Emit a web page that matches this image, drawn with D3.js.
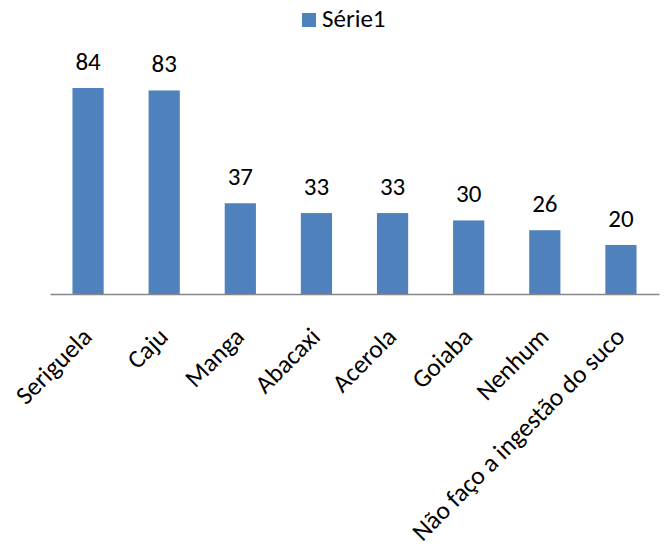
<!DOCTYPE html>
<html>

<head>
	<meta charset='utf-8'>
	<style>
		body { margin: 0; background: white; }
		svg { font-family: Carlito, Lato, "Open Sans", sans-serif; }
	</style>
</head>

<body>
	<svg></svg>
	<script src="https://d3js.org/d3.v7.min.js"></script>
	<script>
		var categories = ['Seriguela', 'Caju', 'Manga', 'Abacaxi', 'Acerola', 'Goiaba', 'Nenhum', 'Não faço a ingestão do suco'];
		var values = [84, 83, 37, 33, 33, 30, 26, 20];
		var seriesName = 'Série1';

		var width = 667, height = 551;
		var left = 50, right = 659, base = 294, top_ = 88;

		var svg = d3.select('svg').attr('width', width).attr('height', height);

		var x = d3.scaleBand().domain(categories).range([left, right]).paddingInner(0.59).paddingOuter(0.295);
		var y = d3.scaleLinear().domain([0, 84]).range([base, top_]);

		svg.selectAll('rect.bar')
			.data(values)
			.enter()
			.append('rect')
			.attr('class', 'bar')
			.attr('x', function (d, i) { return x(categories[i]) })
			.attr('y', function (d) { return y(d) })
			.attr('width', x.bandwidth())
			.attr('height', function (d) { return base - y(d) })
			.style('fill', '#4f81bd');

		svg.selectAll('text.val')
			.data(values)
			.enter()
			.append('text')
			.attr('class', 'val')
			.attr('x', function (d, i) { return x(categories[i]) + x.bandwidth() / 2 })
			.attr('y', function (d) { return y(d) - 18 })
			.attr('text-anchor', 'middle')
			.attr('font-size', 25)
			.attr('fill', '#000')
			.text(function (d) { return d });

		// x axis
		var xAxis = d3.axisBottom(x).tickSize(0).tickPadding(0);
		var gx = svg.append('g').attr('transform', 'translate(0,' + base + ')').call(xAxis);
		gx.select('.domain').attr('stroke', '#868686').attr('stroke-width', 1.5);
		gx.selectAll('.tick text')
			.attr('font-size', 25.5)
			.attr('font-family', 'Carlito, Lato, "Open Sans", sans-serif')
			.attr('fill', '#000')
			.attr('text-anchor', 'end')
			.attr('dy', '0.35em')
			.attr('y', 0)
			.attr('transform', 'translate(-1,38) rotate(-45)');

		// legend
		var lg = svg.append('g').attr('transform', 'translate(302,13)');
		lg.append('rect').attr('width', 14).attr('height', 14).style('fill', '#4f81bd');
		lg.append('text').attr('x', 20).attr('y', 14).attr('font-size', 25).attr('fill', '#000').text(seriesName);
	</script>
</body>

</html>
